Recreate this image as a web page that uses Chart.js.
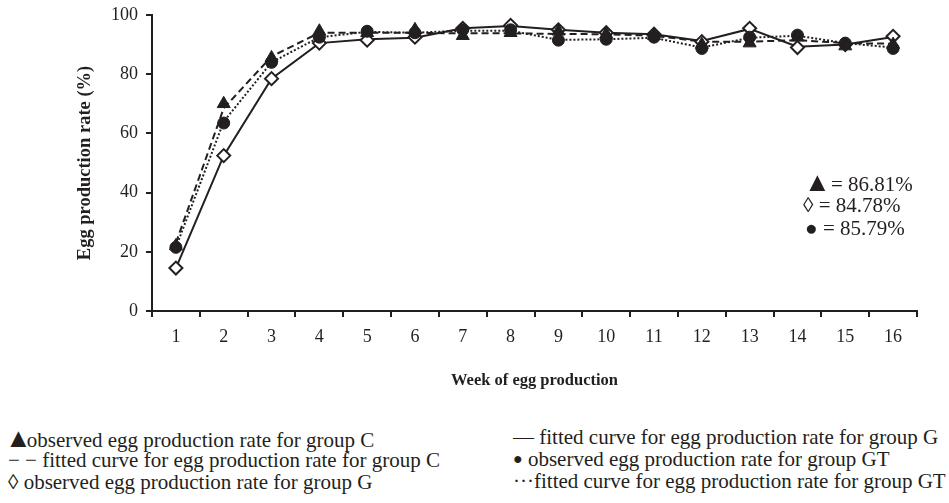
<!DOCTYPE html>
<html>
<head>
<meta charset="utf-8">
<script src="https://cdn.jsdelivr.net/npm/chart.js@4"></script>
<style>
  html, body { margin: 0; padding: 0; background: #fff; }
  body { width: 949px; height: 503px; position: relative; overflow: hidden; font-family: "Liberation Serif", "Times New Roman", serif; color: #231f20; }
  #wrap { position: absolute; left: 0; top: 0; width: 949px; height: 391px; }
  .t { position: absolute; white-space: nowrap; font-size: 21px; line-height: 22px; }
  .tri { font-size: 27px; line-height: 22px; display: inline-block; margin-right: -5px; }
  .dot { font-size: 16px; line-height: 22px; vertical-align: 2px; }
</style>
</head>
<body>
<div id="wrap"><canvas id="c"></canvas></div>

<div class="t" style="left:804px; top:171px;"><span class="tri">▲</span> = 86.81%</div>
<div class="t" style="left:803px; top:194px;">◊ = 84.78%</div>
<div class="t" style="left:805px; top:217px;">● = 85.79%</div>

<div class="t" style="left:5px; top:427px;"><span class="tri">▲</span>observed egg production rate for group C</div>
<div class="t" style="left:8px; top:449px;">− − fitted curve for egg production rate for group C</div>
<div class="t" style="left:8px; top:471px;">◊ observed egg production rate for group G</div>

<div class="t" style="left:513px; top:426px;">— fitted curve for egg production rate for group G</div>
<div class="t" style="left:513px; top:448px;"><span class="dot">●</span> observed egg production rate for group GT</div>
<div class="t" style="left:513px; top:470px;">···fitted curve for egg production rate for group GT</div>

<script>
// Weeks of lay
const weeks = ['1','2','3','4','5','6','7','8','9','10','11','12','13','14','15','16'];

// Observed weekly egg production rate (%)
const observedC  = [22, 70, 85.5, 94.5, 94, 95, 93, 94, 94.5, 93.5, 93, 90, 90.5, 92.5, 89.5, 90];
const observedG  = [14.5, 52.5, 78.5, 90.5, 91.5, 92.5, 95.5, 96.5, 95, 94, 93.5, 91, 95.5, 89, 90, 92.8];
const observedGT = [21.5, 63.5, 84, 92.5, 94.5, 94, 95, 95, 91.5, 91.8, 92.5, 88.7, 92.5, 93.2, 90.5, 88.7];

// Fitted curves
const fittedC  = [23, 68.5, 86, 94, 94, 94, 93.8, 93.8, 93.6, 93.5, 93, 91, 91, 91.5, 90.5, 90.3];
const fittedG  = [14.5, 52.5, 78.5, 90.5, 91.8, 92.3, 95.5, 96.3, 95, 94, 93.5, 91.2, 95.3, 89.3, 90, 92.6];
const fittedGT = [21.5, 64, 84, 92.5, 94.3, 94, 94.7, 94.7, 91.6, 91.8, 92.3, 89, 92.3, 93, 90.5, 89];

const yTicks = [0, 20, 40, 60, 80, 100];

const ink = '#231f20';
const serif = '"Liberation Serif", "Times New Roman", serif';

new Chart(document.getElementById('c'), {
  type: 'line',
  data: {
    labels: weeks,
    datasets: [
      { data: fittedG,  borderColor: ink, borderWidth: 2, pointRadius: 0, tension: 0, order: 10 },
      { data: fittedC,  borderColor: ink, borderWidth: 2, borderDash: [7, 4], pointRadius: 0, tension: 0, order: 11 },
      { data: fittedGT, borderColor: ink, borderWidth: 2, borderDash: [2, 2], pointRadius: 0, tension: 0, order: 12 },
      { data: observedG,  showLine: false, pointStyle: 'rectRot', pointRadius: 6.5, pointBackgroundColor: '#fff', pointBorderColor: ink, pointBorderWidth: 2, order: 3 },
      { data: observedGT, showLine: false, pointStyle: 'circle', pointRadius: 6, pointBackgroundColor: ink, pointBorderColor: ink, pointBorderWidth: 1, order: 2 },
      { data: observedC,  showLine: false, pointStyle: 'triangle', pointRadius: 7.5, pointBackgroundColor: ink, pointBorderColor: ink, pointBorderWidth: 1, order: 1 }
    ]
  },
  options: {
    responsive: true,
    maintainAspectRatio: false,
    animation: false,
    events: [],
    layout: { padding: { left: 74, right: 32, top: 15, bottom: 0 } },
    plugins: { legend: { display: false }, tooltip: { enabled: false } },
    scales: {
      x: {
        type: 'category',
        offset: true,
        afterFit: s => { s.height = 80; s.paddingLeft = 0; s.paddingRight = 0; },
        grid: { offset: true, drawOnChartArea: false, tickLength: 6, color: ink, lineWidth: 2 },
        border: { color: ink, width: 2 },
        ticks: { color: ink, font: { family: serif, size: 18 }, padding: 9, maxRotation: 0 },
        title: { display: true, text: 'Week of egg production', color: ink, font: { family: serif, size: 16.5, weight: 'bold' }, padding: 0 }
      },
      y: {
        min: 0,
        max: 100,
        afterFit: s => { s.width = 78; s.paddingTop = 0; s.paddingBottom = 0; },
        afterBuildTicks: s => { s.ticks = yTicks.map(v => ({ value: v })); },
        grid: { drawOnChartArea: false, tickLength: 6, color: ink, lineWidth: 2 },
        border: { color: ink, width: 2 },
        ticks: { color: ink, font: { family: serif, size: 18 }, padding: 8 },
        title: { display: true, text: 'Egg production rate (%)', color: ink, font: { family: serif, size: 18.5, weight: 'bold' }, padding: 0 }
      }
    }
  }
});
</script>
</body>
</html>
